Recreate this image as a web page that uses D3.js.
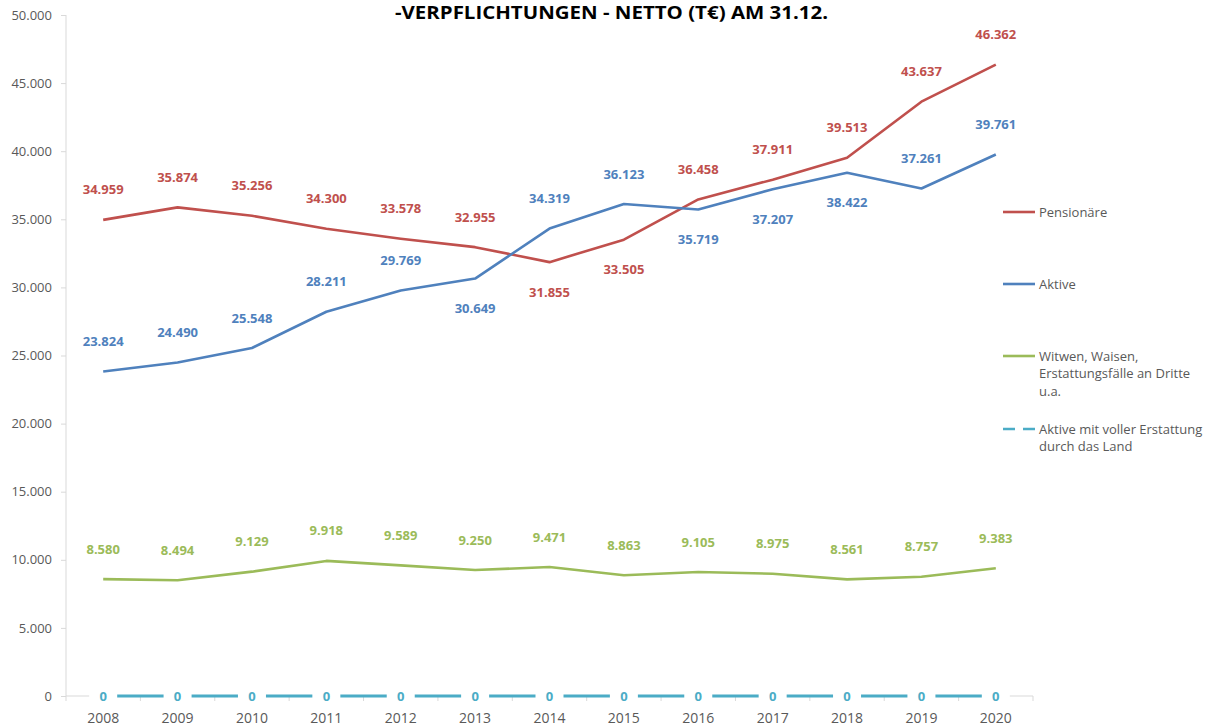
<!DOCTYPE html>
<html>
<head>
<meta charset="utf-8">
<script src="https://cdn.jsdelivr.net/npm/d3@7"></script>
<style>
  body { margin: 0; background: #fff; }
  svg { display: block; font-family: "Open Sans", sans-serif; }
</style>
</head>
<body>
<svg id="chart" width="1213" height="727"></svg>
<script>
var years = ["2008", "2009", "2010", "2011", "2012", "2013", "2014", "2015", "2016", "2017", "2018", "2019", "2020"];

var pensionaere = [34959, 35874, 35256, 34300, 33578, 32955, 31855, 33505, 36458, 37911, 39513, 43637, 46362];
var aktive = [23824, 24490, 25548, 28211, 29769, 30649, 34319, 36123, 35719, 37207, 38422, 37261, 39761];
var witwen = [8580, 8494, 9129, 9918, 9589, 9250, 9471, 8863, 9105, 8975, 8561, 8757, 9383];
var aktiveErstattung = [0, 0, 0, 0, 0, 0, 0, 0, 0, 0, 0, 0, 0];

// label above (-1) or below (+1) the point
var pensionaereSide = [-1, -1, -1, -1, -1, -1, 1, 1, -1, -1, -1, -1, -1];
var aktiveSide = [-1, -1, -1, -1, -1, 1, -1, -1, 1, 1, 1, -1, -1];
var witwenSide = [-1, -1, -1, -1, -1, -1, -1, -1, -1, -1, -1, -1, -1];

var yTicks = [0, 5000, 10000, 15000, 20000, 25000, 30000, 35000, 40000, 45000, 50000];

var series = [
    { name: ["Pensionäre"], values: pensionaere, side: pensionaereSide, color: "#C0504D", legendY: 212 },
    { name: ["Aktive"], values: aktive, side: aktiveSide, color: "#4F81BD", legendY: 284 },
    { name: ["Witwen, Waisen,", "Erstattungsfälle an Dritte", "u.a."], values: witwen, side: witwenSide, color: "#9BBB59", legendY: 356 },
    { name: ["Aktive mit voller Erstattung", "durch das Land"], values: aktiveErstattung, side: null, color: "#4BACC6", legendY: 429, dashed: true }
];

var de = d3.formatLocale({ decimal: ",", thousands: ".", grouping: [3], currency: ["", " €"] });
var fmt = de.format(",d");

var svg = d3.select("#chart");

var x = d3.scaleBand().domain(years).range([66, 1033]);
var y = d3.scaleLinear().domain([0, 50000]).range([696, 15]);
var cx = function(i) { return x(years[i]) + x.bandwidth() / 2; };

// title (top part is cut off in the original)
svg.append("text")
    .attr("x", 611.5).attr("y", 19)
    .attr("text-anchor", "middle")
    .attr("font-size", 17).attr("font-weight", "bold")
    .attr("fill", "#000")
    .attr("textLength", 433).attr("lengthAdjust", "spacingAndGlyphs")
    .text("-VERPFLICHTUNGEN - NETTO (T€) AM 31.12.");

// y axis
var yAxis = svg.append("g")
    .attr("transform", "translate(66,0)")
    .call(d3.axisLeft(y).tickValues(yTicks).tickSize(5).tickPadding(9).tickFormat(fmt));
yAxis.select(".domain").attr("stroke", "#D9D9D9").attr("d", "M0,15V696");
yAxis.selectAll(".tick line").attr("stroke", "#D9D9D9");
yAxis.selectAll(".tick text")
    .attr("fill", "#595959").attr("font-size", 13)
    .attr("font-family", "Open Sans, sans-serif");

// x axis, ticks between categories
var xAxis = svg.append("g")
    .attr("transform", "translate(0,696)");
xAxis.append("line")
    .attr("x1", 66).attr("x2", 1033)
    .attr("stroke", "#D9D9D9");
var bounds = years.map(function(d) { return x(d); }).concat([x.range()[1]]);
xAxis.selectAll("line.tick").data(bounds).enter().append("line")
    .attr("class", "tick")
    .attr("x1", function(d) { return d; }).attr("x2", function(d) { return d; })
    .attr("y1", 0).attr("y2", 5)
    .attr("stroke", "#D9D9D9");
xAxis.selectAll("text").data(years).enter().append("text")
    .attr("x", function(d) { return x(d) + x.bandwidth() / 2; })
    .attr("y", 27)
    .attr("text-anchor", "middle")
    .attr("fill", "#595959").attr("font-size", 14)
    .text(function(d) { return d; });

var line = d3.line()
    .x(function(d, i) { return cx(i); })
    .y(function(d) { return y(d); });

series.forEach(function(s) {
    svg.append("path")
        .datum(s.values)
        .attr("fill", "none")
        .attr("stroke", s.color)
        .attr("stroke-width", s.dashed ? 3 : 2.6)
        .attr("stroke-linejoin", "round")
        .attr("d", line);

    var g = svg.append("g");
    if (s.dashed) {
        // labels centred on the point, with a white box behind them
        g.selectAll("rect").data(s.values).enter().append("rect")
            .attr("x", function(d, i) { return cx(i) - 14; })
            .attr("y", function(d) { return y(d) - 8; })
            .attr("width", 28).attr("height", 16)
            .attr("fill", "#fff");
    }
    g.selectAll("text").data(s.values).enter().append("text")
        .attr("x", function(d, i) { return cx(i); })
        .attr("y", function(d, i) { return y(d) + (s.side ? s.side[i] * 30 : 0); })
        .attr("dy", "0.35em")
        .attr("text-anchor", "middle")
        .attr("font-size", 13).attr("font-weight", "bold")
        .attr("fill", s.color)
        .text(function(d) { return fmt(d); });

    // legend
    svg.append("line")
        .attr("x1", 1003).attr("x2", 1035)
        .attr("y1", s.legendY).attr("y2", s.legendY)
        .attr("stroke", s.color)
        .attr("stroke-width", 2.6)
        .attr("stroke-dasharray", s.dashed ? "12 8" : null);
    var lt = svg.append("text")
        .attr("x", 1039).attr("y", s.legendY)
        .attr("fill", "#595959").attr("font-size", 13);
    s.name.forEach(function(n, k) {
        lt.append("tspan")
            .attr("x", 1039)
            .attr("dy", k === 0 ? "0.35em" : 17.6)
            .text(n);
    });
});
</script>
</body>
</html>
